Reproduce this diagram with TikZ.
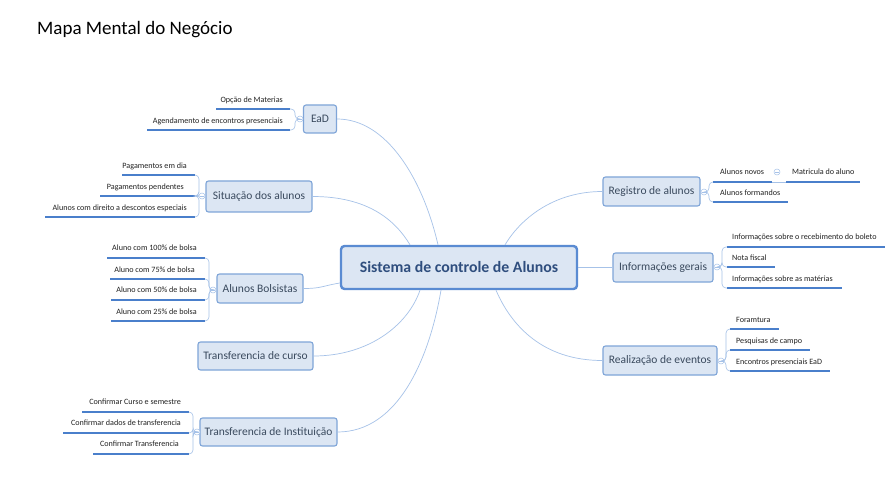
\documentclass[tikz,border=0pt]{standalone}
\usepackage{fontspec}
\setmainfont{Carlito}
\usetikzlibrary{calc}
\definecolor{boxfill}{HTML}{DCE6F3}
\definecolor{boxborder}{HTML}{7FA5D8}
\definecolor{cenborder}{HTML}{5A8BD2}
\definecolor{maintext}{HTML}{3A4A5E}
\definecolor{centext}{HTML}{2F4E7E}
\definecolor{uline}{HTML}{4A7FCB}
\definecolor{bline}{HTML}{A6C2E8}
\definecolor{leaftext}{HTML}{222222}
\tikzset{
  mainbox/.style={draw=boxborder, fill=boxfill, rounded corners=2.5pt, line width=1.1pt, inner sep=0pt,
    font=\fontsize{11.5}{13}\selectfont, text=maintext},
  centralbox/.style={draw=cenborder, fill=boxfill, rounded corners=3.5pt, line width=2.4pt, inner sep=0pt,
    font=\fontsize{15.8}{18}\selectfont\bfseries, text=centext},
  leaf/.style={font=\fontsize{8.1}{9.5}\selectfont, text=leaftext, inner sep=0pt},
  ul/.style={draw=uline, line width=1.5pt},
  conn/.style={draw=bline, line width=0.7pt},
  brk/.style={draw=bline, line width=0.6pt, rounded corners=4pt},
  collapse/.style={circle, draw=bline, fill=white, line width=0.5pt, minimum size=6pt, inner sep=0pt,
    path picture={\draw[bline, line width=0.5pt] ([xshift=-1.8pt]path picture bounding box.center) -- ([xshift=1.8pt]path picture bounding box.center);}},
}
% left leaf: name, text east x, text y, underline start x, end x, underline y, text
\newcommand{\lleaf}[7]{%
  \node[leaf, anchor=east] (#1) at (#2,-#3) {#7};
  \coordinate (#1s) at (#4,-#6); \coordinate (#1e) at (#5,-#6);
  \draw[ul] (#1s) -- (#1e);}
% right leaf: name, text west x, text y, underline start x, end x, underline y, text
\newcommand{\rleaf}[7]{%
  \node[leaf, anchor=west] (#1) at (#2,-#3) {#7};
  \coordinate (#1s) at (#4,-#6); \coordinate (#1e) at (#5,-#6);
  \draw[ul] (#1s) -- (#1e);}
% brackets: circle, leaf, vertical x
\newcommand{\lbrk}[3]{\draw[brk] (#1.west) -| (#3,0 |- #2e) -- (#2e);}
\newcommand{\rbrk}[3]{\draw[brk] (#1.east) -| (#3,0 |- #2s) -- (#2s);}
\begin{document}
\begin{tikzpicture}[x=1pt,y=1pt]
\useasboundingbox[fill=white] (0,0) rectangle (896,-486);

\node[anchor=west, font=\fontsize{19}{22}\selectfont, text=black, inner sep=0pt] (title) at (37,-30) {Mapa Mental do Negócio};

% main nodes
\node[centralbox, minimum width=236pt, minimum height=43pt] (cen) at (459,-267.5) {Sistema de controle de Alunos};
\node[mainbox, minimum width=33pt, minimum height=28pt] (ead) at (320,-119) {EaD};
\node[mainbox, minimum width=106pt, minimum height=31pt] (sit) at (259,-196.5) {Situação dos alunos};
\node[mainbox, minimum width=86pt, minimum height=29pt] (bol) at (260,-288.5) {Alunos Bolsistas};
\node[mainbox, minimum width=115pt, minimum height=28pt] (tc) at (255.5,-356) {Transferencia de curso};
\node[mainbox, minimum width=137pt, minimum height=28pt] (ti) at (268.5,-432) {Transferencia de Instituição};
\node[mainbox, minimum width=97pt, minimum height=29pt] (reg) at (651.5,-191.5) {Registro de alunos};
\node[mainbox, minimum width=100pt, minimum height=29pt] (inf) at (663,-267.5) {Informações gerais};
\node[mainbox, minimum width=114pt, minimum height=29pt] (rea) at (660,-360.5) {Realização de eventos};

% connectors to center
\draw[conn] (ead.east) .. controls +(50,0) and +(-15,65) .. ([xshift=-21pt]cen.north);
\draw[conn] (sit.east) .. controls +(55,0) and +(-15,25) .. ([xshift=-49pt]cen.north);
\draw[conn] (bol.east) .. controls +(18,0) and +(-18,-3) .. ([yshift=-15.5pt]cen.west);
\draw[conn] (tc.east) .. controls +(55,0) and +(-12,-35) .. ([xshift=-39pt]cen.south);
\draw[conn] (ti.east) .. controls +(60,0) and +(-12,-70) .. ([xshift=-18pt]cen.south);
\draw[conn] (reg.west) .. controls +(-50,0) and +(15,25) .. ([xshift=46pt]cen.north);
\draw[conn] (inf.west) .. controls +(-15,0) and +(15,0) .. (cen.east);
\draw[conn] (rea.west) .. controls +(-60,0) and +(15,-35) .. ([xshift=37pt]cen.south);

% EaD leaves
\node[collapse] (cead) at (300,-119) {};
\lleaf{ea}{283}{100}{216}{290}{109}{Opção de Materias}
\lleaf{eb}{283}{121}{147}{290}{130}{Agendamento de encontros presenciais}
\lbrk{cead}{ea}{295} \lbrk{cead}{eb}{295}

% Situação leaves
\node[collapse] (csit) at (202,-196) {};
\lleaf{sa}{187}{166}{122}{195}{175}{Pagamentos em dia}
\lleaf{sb}{184}{187}{100}{195}{196}{Pagamentos pendentes}
\lleaf{sc}{187}{208}{45}{195}{217}{Alunos com direito a descontos especiais}
\lbrk{csit}{sa}{199} \lbrk{csit}{sb}{199} \lbrk{csit}{sc}{199}

% Bolsistas leaves
\node[collapse] (cbol) at (213,-290) {};
\lleaf{ba}{197}{248}{107}{205}{258}{Aluno com 100\% de bolsa}
\lleaf{bb}{195}{270}{110}{205}{279}{Aluno com 75\% de bolsa}
\lleaf{bc}{197}{290}{111}{205}{300}{Aluno com 50\% de bolsa}
\lleaf{bd}{197}{312}{111}{205}{321}{Aluno com 25\% de bolsa}
\lbrk{cbol}{ba}{209} \lbrk{cbol}{bb}{209} \lbrk{cbol}{bc}{209} \lbrk{cbol}{bd}{209}

% Transferencia de Instituição leaves
\node[collapse] (cti) at (197,-432) {};
\lleaf{ta}{181}{402}{82}{189}{412}{Confirmar Curso e semestre}
\lleaf{tb}{181}{423}{63}{189}{433}{Confirmar dados de transferencia}
\lleaf{td}{179}{444}{93}{189}{454}{Confirmar Transferencia}
\lbrk{cti}{ta}{193} \lbrk{cti}{tb}{193} \lbrk{cti}{td}{193}

% Registro leaves
\node[collapse] (creg) at (704,-192) {};
\rleaf{ra}{720}{172}{713}{772}{182}{Alunos novos}
\rleaf{rb}{720}{193}{713}{788}{202}{Alunos formandos}
\rbrk{creg}{ra}{709} \rbrk{creg}{rb}{709}
\node[collapse] (cnov) at (777,-172) {};
\rleaf{rm}{792}{172}{786}{860}{182}{Matricula do aluno}
\draw[brk] (rae) -- (rms);

% Informações leaves
\node[collapse] (cinf) at (717,-267) {};
\rleaf{ia}{732}{237}{727}{885}{247}{Informações sobre o recebimento do boleto}
\rleaf{ib}{732}{258}{727}{775}{267}{Nota fiscal}
\rleaf{ic}{732}{279}{727}{842}{288}{Informações sobre as matérias}
\rbrk{cinf}{ia}{722} \rbrk{cinf}{ib}{722} \rbrk{cinf}{ic}{722}

% Realização leaves
\node[collapse] (crea) at (721,-361) {};
\rleaf{ea1}{736}{320}{730}{779}{329}{Foramtura}
\rleaf{ea2}{736}{341}{730}{810}{350}{Pesquisas de campo}
\rleaf{ea3}{736}{362}{730}{830}{371}{Encontros presenciais EaD}
\rbrk{crea}{ea1}{726} \rbrk{crea}{ea2}{726} \rbrk{crea}{ea3}{726}
\end{tikzpicture}
\end{document}
